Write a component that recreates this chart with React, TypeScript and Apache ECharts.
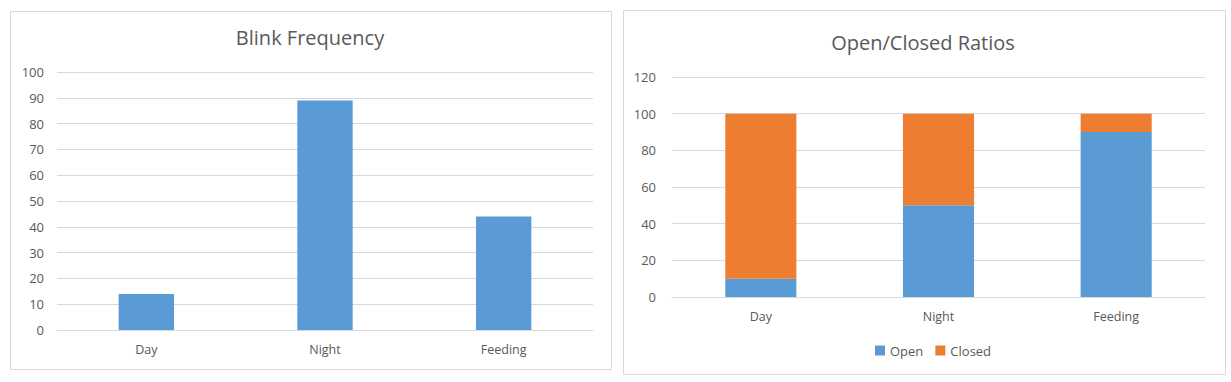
import React, { useEffect, useRef } from "react";
import * as echarts from "echarts";

const categories = ["Day", "Night", "Feeding"];
const blinkValues = [14, 89, 44];
const openValues = [10, 50, 90];
const closedValues = [90, 50, 10];
const leftTicks = { min: 0, max: 100, interval: 10 };
const rightTicks = { min: 0, max: 120, interval: 20 };

const TEXT = "#595959";
const GRID = "#D9D9D9";
const BLUE = "#5B9BD5";
const ORANGE = "#ED7D31";
const FONT = "'Open Sans', 'Noto Sans', sans-serif";

export default function App() {
  const ref = useRef<HTMLDivElement>(null);
  useEffect(() => {
    if (!ref.current) return;
    const chart = echarts.init(ref.current, undefined, { renderer: "svg" });
    const xAxisBase = {
      type: "category" as const,
      data: categories,
      axisLine: { lineStyle: { color: GRID } },
      axisTick: { show: false },
      axisLabel: { color: TEXT, fontSize: 12.5, fontFamily: FONT, margin: 13 },
    };
    const yAxisBase = {
      type: "value" as const,
      axisLine: { show: false },
      axisTick: { show: false },
      splitLine: { lineStyle: { color: GRID } },
    };
    chart.setOption({
      animation: false,
      backgroundColor: "#fff",
      textStyle: { fontFamily: FONT },
      title: [
        {
          text: "Blink Frequency",
          left: 305,
          top: 22,
          textAlign: "center",
          textStyle: { color: TEXT, fontSize: 20, fontWeight: "normal", fontFamily: FONT },
        },
        {
          text: "Open/Closed Ratios",
          left: 918,
          top: 27,
          textAlign: "center",
          textStyle: { color: TEXT, fontSize: 20, fontWeight: "normal", fontFamily: FONT },
        },
      ],
      legend: {
        data: ["Open", "Closed"],
        left: 870,
        top: 339,
        itemWidth: 10,
        itemHeight: 10,
        itemGap: 12,
        icon: "rect",
        textStyle: { color: TEXT, fontSize: 13, fontFamily: FONT },
      },
      graphic: [
        {
          type: "rect",
          shape: { x: 10.5, y: 11.5, width: 601, height: 358 },
          style: { fill: "none", stroke: GRID, lineWidth: 1 },
          silent: true,
        },
        {
          type: "rect",
          shape: { x: 623.5, y: 10.5, width: 602, height: 364 },
          style: { fill: "none", stroke: GRID, lineWidth: 1 },
          silent: true,
        },
      ],
      grid: [
        { left: 57, top: 72, width: 536, height: 258 },
        { left: 672, top: 77, width: 533, height: 220 },
      ],
      xAxis: [
        { ...xAxisBase, gridIndex: 0 },
        { ...xAxisBase, gridIndex: 1 },
      ],
      yAxis: [
        {
          ...yAxisBase,
          gridIndex: 0,
          ...leftTicks,
          axisLabel: { color: TEXT, fontSize: 13, fontFamily: FONT, margin: 13 },
        },
        {
          ...yAxisBase,
          gridIndex: 1,
          ...rightTicks,
          axisLabel: { color: TEXT, fontSize: 13, fontFamily: FONT, margin: 16 },
        },
      ],
      series: [
        {
          name: "Blink Frequency",
          type: "bar",
          xAxisIndex: 0,
          yAxisIndex: 0,
          data: blinkValues,
          barWidth: "31%",
          itemStyle: { color: BLUE },
        },
        {
          name: "Open",
          type: "bar",
          stack: "ratio",
          xAxisIndex: 1,
          yAxisIndex: 1,
          data: openValues,
          barWidth: "40%",
          itemStyle: { color: BLUE },
        },
        {
          name: "Closed",
          type: "bar",
          stack: "ratio",
          xAxisIndex: 1,
          yAxisIndex: 1,
          data: closedValues,
          barWidth: "40%",
          itemStyle: { color: ORANGE },
        },
      ],
    });
    return () => chart.dispose();
  }, []);
  return (
    <div
      ref={ref}
      style={{ position: "fixed", left: 0, top: 0, width: 1231, height: 382 }}
    />
  );
}
